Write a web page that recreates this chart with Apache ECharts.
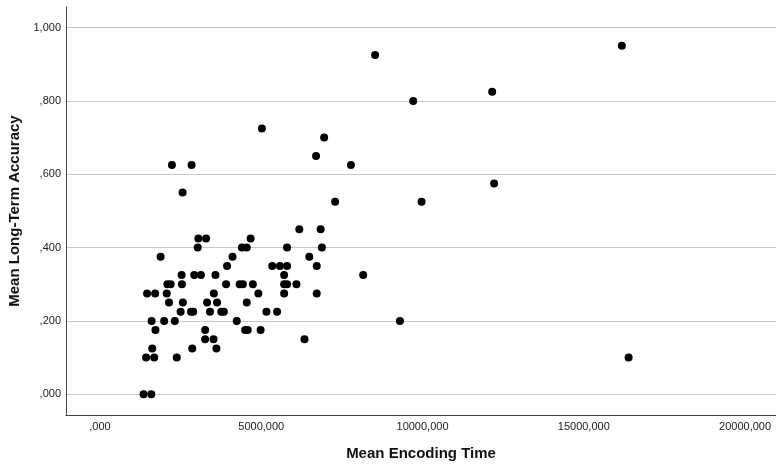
<!DOCTYPE html>
<html lang="en">
<head>
  <meta charset="UTF-8">
  <title>Mean Encoding Time vs Mean Long-Term Accuracy</title>
  <script src="https://cdn.jsdelivr.net/npm/echarts@6/dist/echarts.min.js"></script>
  <style>
    html,body{padding:0;margin:0;background:#fff;}
    #chart{width:776px;height:467px;}
  </style>
</head>
<body>
  <div id="chart"></div>
  <script>
    // mean encoding time per participant (same order as accuracy below)
    var encodingTime = [
      1350, 1590,
      1430, 1680, 2380, 16390,
      1620, 2860, 3610,
      3260, 3520, 6340,
      1720, 3260, 4500, 4580, 4980,
      1600, 1990, 2320, 4240, 9300,
      2500, 2820, 2890, 3410, 3760, 3840, 5160, 5490,
      2140, 2570, 3320, 3630, 4550,
      1460, 1710, 2070, 3530, 4910, 5710, 6720,
      2090, 2190, 2540, 3910, 4330, 4430, 4740, 5710, 5800, 6090,
      2530, 2920, 3130, 3580, 5710, 8160,
      3940, 5340, 5580, 5800, 6720,
      1880, 4110, 6490,
      3030, 4400, 4550, 5800, 6880,
      3050, 3290, 4670,
      6180, 6840,
      7290, 9970,
      2560,
      12220,
      2230, 2840, 7780,
      6700,
      6950,
      5020,
      9710,
      12160,
      8530,
      16180
    ];
    var accuracy = [
      0, 0,
      0.1, 0.1, 0.1, 0.1,
      0.125, 0.125, 0.125,
      0.15, 0.15, 0.15,
      0.175, 0.175, 0.175, 0.175, 0.175,
      0.2, 0.2, 0.2, 0.2, 0.2,
      0.225, 0.225, 0.225, 0.225, 0.225, 0.225, 0.225, 0.225,
      0.25, 0.25, 0.25, 0.25, 0.25,
      0.275, 0.275, 0.275, 0.275, 0.275, 0.275, 0.275,
      0.3, 0.3, 0.3, 0.3, 0.3, 0.3, 0.3, 0.3, 0.3, 0.3,
      0.325, 0.325, 0.325, 0.325, 0.325, 0.325,
      0.35, 0.35, 0.35, 0.35, 0.35,
      0.375, 0.375, 0.375,
      0.4, 0.4, 0.4, 0.4, 0.4,
      0.425, 0.425, 0.425,
      0.45, 0.45,
      0.525, 0.525,
      0.55,
      0.575,
      0.625, 0.625, 0.625,
      0.65,
      0.7,
      0.725,
      0.8,
      0.825,
      0.925,
      0.95
    ];
    var xTicks = [0, 5000, 10000, 15000, 20000];
    var yTicks = [0, 0.2, 0.4, 0.6, 0.8, 1];

    // SPSS style: comma as decimal mark, no leading zero
    function spss(v) {
      var p = Number(v).toFixed(3).split('.');
      return (p[0] === '0' ? '' : p[0]) + ',' + p[1];
    }

    var points = encodingTime.map(function (t, i) { return [t, accuracy[i]]; });
    var font = 'Arial, "Liberation Sans", sans-serif';

    var option = {
      backgroundColor: '#fff',
      animation: false,
      textStyle: {fontFamily: font},
      grid: {left: 66, right: 0, top: 7, bottom: 52, outerBoundsMode: 'none', containLabel: false},
      xAxis: {
        type: 'value',
        min: -1054,
        max: 20960,
        name: 'Mean Encoding Time',
        nameLocation: 'middle',
        nameGap: 31,
        nameTextStyle: {fontSize: 15, fontWeight: 'bold', color: '#111', fontFamily: font},
        axisLine: {show: true, onZero: false, lineStyle: {color: '#444', width: 1}},
        axisTick: {show: false, customValues: xTicks},
        axisLabel: {customValues: xTicks, formatter: spss, color: '#222', fontSize: 11, margin: 6, fontFamily: font},
        splitLine: {show: false}
      },
      yAxis: {
        type: 'value',
        min: -0.0565,
        max: 1.056,
        name: 'Mean Long-Term Accuracy',
        nameLocation: 'middle',
        nameGap: 44,
        nameRotate: 90,
        nameTextStyle: {fontSize: 15, fontWeight: 'bold', color: '#111', fontFamily: font},
        axisLine: {show: true, onZero: false, lineStyle: {color: '#444', width: 1}},
        axisTick: {show: false, customValues: yTicks},
        axisLabel: {customValues: yTicks, formatter: spss, color: '#222', fontSize: 11, margin: 5, fontFamily: font},
        splitLine: {show: true, lineStyle: {color: '#c8c8c8', width: 1}}
      },
      series: [{
        type: 'scatter',
        symbol: 'circle',
        symbolSize: 8,
        itemStyle: {color: '#000', opacity: 1},
        data: points
      }]
    };
    var myChart = echarts.init(document.getElementById('chart'));
    myChart.setOption(option);
  </script>
</body>
</html>
